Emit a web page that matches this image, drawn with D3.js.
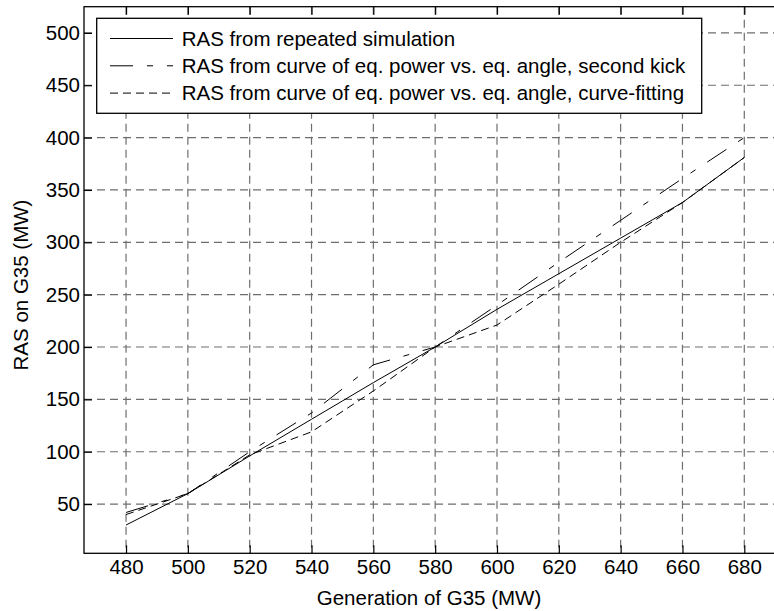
<!DOCTYPE html>
<html>
<head>
<meta charset="utf-8">
<script src="https://cdn.jsdelivr.net/npm/d3@7"></script>
<style>
  body { margin: 0; background: #fff; }
  svg { display: block; font-family: "Liberation Sans", Arial, sans-serif; }
</style>
</head>
<body>
<div class="ras-chart"></div>
<script>
"use strict";

const generation = [480, 500, 520, 540, 560, 580, 600, 620, 640, 660, 680];
const rasRepeated = [30, 60, 96, 131, 166, 200, 236, 270, 304, 338, 381];
const rasSecondKick = [42, 60, 100, 137, 183, 200, 240, 281, 321, 361, 400];
const rasCurveFit = [40, 60, 97, 119, 158, 200, 221, 260, 300, 338, 381];

const xTicks = [480, 500, 520, 540, 560, 580, 600, 620, 640, 660, 680];
const yTicks = [50, 100, 150, 200, 250, 300, 350, 400, 450, 500];

const seriesNames = [
  "RAS from repeated simulation",
  "RAS from curve of eq. power vs. eq. angle, second kick",
  "RAS from curve of eq. power vs. eq. angle, curve-fitting",
];
const seriesDash = ["none", "23,14,6,14", "8,5"];

const width = 774;
const height = 611;
const plot = { left: 84, right: 775.2, top: 6.7, bottom: 553.3 };
const fontSize = "20.5px";

const svg = d3
  .select(".ras-chart")
  .append("svg")
  .attr("width", width)
  .attr("height", height);

const x = d3.scaleLinear().domain([466.4, 690]).range([plot.left, plot.right]);
const y = d3.scaleLinear().domain([3, 525]).range([plot.bottom, plot.top]);

// grid lines
const grid = svg
  .append("g")
  .attr("stroke", "#6e6e6e")
  .attr("stroke-width", 1.2)
  .attr("stroke-dasharray", "8,5");

grid
  .selectAll(".vgrid")
  .data(xTicks)
  .join("line")
  .attr("x1", (d) => x(d))
  .attr("x2", (d) => x(d))
  .attr("y1", plot.top)
  .attr("y2", plot.bottom);

grid
  .selectAll(".hgrid")
  .data(yTicks)
  .join("line")
  .attr("x1", plot.left)
  .attr("x2", plot.right)
  .attr("y1", (d) => y(d))
  .attr("y2", (d) => y(d));

// series
const series = [rasRepeated, rasSecondKick, rasCurveFit];
const line = d3
  .line()
  .x((d, i) => x(generation[i]))
  .y((d) => y(d));

series.forEach((values, i) => {
  svg
    .append("path")
    .datum(values)
    .attr("fill", "none")
    .attr("stroke", "black")
    .attr("stroke-width", 1)
    .attr("stroke-dasharray", seriesDash[i])
    .attr("d", line);
});

// axes with inside ticks
const xAxis = d3.axisBottom(x).tickValues(xTicks).tickSizeInner(-8).tickSizeOuter(0).tickPadding(6);
const xAxisTop = d3.axisTop(x).tickValues(xTicks).tickSizeInner(-8).tickSizeOuter(0).tickFormat("");
const yAxis = d3.axisLeft(y).tickValues(yTicks).tickSizeInner(-8).tickSizeOuter(0).tickPadding(4);

const styleAxis = (g) => {
  g.select(".domain").remove();
  g.selectAll(".tick line").attr("stroke", "black").attr("stroke-width", 1.2);
  g.selectAll(".tick text")
    .attr("fill", "black")
    .attr("font-size", fontSize)
    .attr("font-family", "Liberation Sans, Arial, sans-serif");
};

svg.append("g").attr("transform", `translate(0,${plot.bottom})`).call(xAxis).call(styleAxis);
svg.append("g").attr("transform", `translate(0,${plot.top})`).call(xAxisTop).call(styleAxis);
svg.append("g").attr("transform", `translate(${plot.left},0)`).call(yAxis).call(styleAxis);

// frame
svg
  .append("rect")
  .attr("x", plot.left)
  .attr("y", plot.top)
  .attr("width", plot.right - plot.left)
  .attr("height", plot.bottom - plot.top)
  .attr("fill", "none")
  .attr("stroke", "black")
  .attr("stroke-width", 1.3);

// axis titles
svg
  .append("text")
  .attr("x", 429)
  .attr("y", 605)
  .attr("text-anchor", "middle")
  .attr("font-size", fontSize)
  .text("Generation of G35 (MW)");

svg
  .append("text")
  .attr("transform", `translate(28,${(plot.top + plot.bottom) / 2 + 5}) rotate(-90)`)
  .attr("text-anchor", "middle")
  .attr("font-size", fontSize)
  .text("RAS on G35 (MW)");

// legend
const legend = svg.append("g");
legend
  .append("rect")
  .attr("x", 96.7)
  .attr("y", 18.3)
  .attr("width", 605)
  .attr("height", 95)
  .attr("fill", "white")
  .attr("stroke", "black")
  .attr("stroke-width", 1.3);

const rows = legend
  .selectAll(".row")
  .data(seriesNames)
  .join("g")
  .attr("transform", (d, i) => `translate(0,${38.5 + i * 27.3})`);

rows
  .append("line")
  .attr("x1", 110)
  .attr("x2", 173)
  .attr("stroke", "black")
  .attr("stroke-width", 1)
  .attr("stroke-dasharray", (d, i) => seriesDash[i]);

rows
  .append("text")
  .attr("x", 181.7)
  .attr("dy", "0.35em")
  .attr("font-size", fontSize)
  .text((d) => d);
</script>
</body>
</html>
